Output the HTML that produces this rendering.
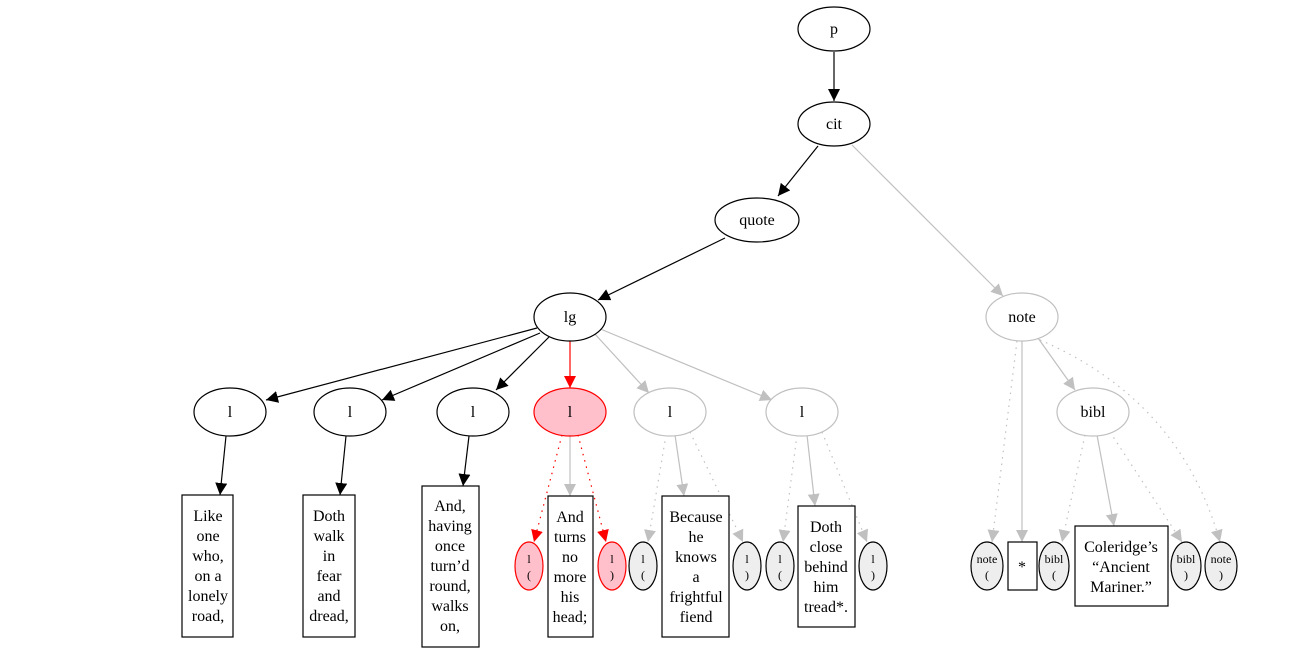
<!DOCTYPE html>
<html><head><meta charset="utf-8"><style>
html,body{margin:0;padding:0;background:#fff}
svg{display:block}
text{font-family:"Liberation Serif",serif;font-size:16px;text-anchor:middle}
.s{font-size:12px}
</style></head><body>
<svg width="1309" height="653" viewBox="0 0 1309 653" xmlns="http://www.w3.org/2000/svg">
<defs>
<marker id="ab" markerUnits="userSpaceOnUse" markerWidth="12" markerHeight="12" refX="10" refY="5" orient="auto" viewBox="0 0 10 10"><path d="M0,0 L10,5 L0,10z" fill="#000"/></marker>
<marker id="ag" markerUnits="userSpaceOnUse" markerWidth="12" markerHeight="12" refX="10" refY="5" orient="auto" viewBox="0 0 10 10"><path d="M0,0 L10,5 L0,10z" fill="#c0c0c0"/></marker>
<marker id="ar" markerUnits="userSpaceOnUse" markerWidth="12" markerHeight="12" refX="10" refY="5" orient="auto" viewBox="0 0 10 10"><path d="M0,0 L10,5 L0,10z" fill="#f00"/></marker>
</defs>
<g fill="none" stroke-width="1.2">
<!-- black edges -->
<g stroke="#000" marker-end="url(#ab)">
<line x1="834" y1="52" x2="834" y2="101"/>
<line x1="818" y1="146" x2="778" y2="196"/>
<line x1="725" y1="238" x2="598" y2="300"/>
<line x1="537" y1="328" x2="266" y2="400"/>
<line x1="540" y1="333" x2="382" y2="400"/>
<line x1="549" y1="337" x2="496" y2="390"/>
<line x1="226" y1="436" x2="220" y2="495"/>
<line x1="346" y1="436" x2="340" y2="495"/>
<line x1="469" y1="436" x2="463" y2="486"/>
</g>
<line x1="570" y1="341" x2="570" y2="388" stroke="#f00" marker-end="url(#ar)"/>
<g stroke="#c0c0c0" marker-end="url(#ag)">
<line x1="852" y1="145" x2="1003" y2="296"/>
<line x1="594" y1="333" x2="649" y2="393"/>
<line x1="598" y1="328" x2="772" y2="400"/>
<line x1="570" y1="435" x2="570" y2="496"/>
<line x1="675" y1="435" x2="684" y2="496"/>
<line x1="807" y1="435" x2="815" y2="506"/>
<line x1="1022" y1="341" x2="1022" y2="542"/>
<line x1="1038" y1="338" x2="1075" y2="390"/>
<line x1="1097" y1="435" x2="1114" y2="526"/>
</g>
<g stroke="#c0c0c0" stroke-dasharray="1.5,5" marker-end="url(#ag)">
<line x1="666" y1="435" x2="648" y2="542"/>
<line x1="690" y1="432" x2="743" y2="542"/>
<line x1="797" y1="435" x2="783" y2="542"/>
<line x1="822" y1="432" x2="867" y2="542"/>
<line x1="1017" y1="341" x2="992" y2="542"/>
<path d="M1040,340 Q1180,400 1220,542"/>
<line x1="1085" y1="435" x2="1062" y2="542"/>
<line x1="1110" y1="432" x2="1182" y2="542"/>
</g>
<g stroke="#f00" stroke-dasharray="1.5,5" marker-end="url(#ar)">
<line x1="562" y1="435" x2="534" y2="542"/>
<line x1="578" y1="435" x2="606" y2="542"/>
</g>
</g>
<!-- nodes -->
<g stroke-width="1.2">
<ellipse cx="834" cy="29" rx="36" ry="22" fill="#fff" stroke="#000"/>
<ellipse cx="834" cy="124" rx="36" ry="22" fill="#fff" stroke="#000"/>
<ellipse cx="757" cy="220" rx="42" ry="22" fill="#fff" stroke="#000"/>
<ellipse cx="570" cy="317" rx="36" ry="24" fill="#fff" stroke="#000"/>
<ellipse cx="1022" cy="317" rx="36" ry="24" fill="#fff" stroke="#c0c0c0"/>
<ellipse cx="230" cy="412" rx="36" ry="24" fill="#fff" stroke="#000"/>
<ellipse cx="350" cy="412" rx="36" ry="24" fill="#fff" stroke="#000"/>
<ellipse cx="473" cy="412" rx="36" ry="24" fill="#fff" stroke="#000"/>
<ellipse cx="570" cy="412" rx="36" ry="24" fill="#ffc0cb" stroke="#f00"/>
<ellipse cx="670" cy="412" rx="36" ry="24" fill="#fff" stroke="#c0c0c0"/>
<ellipse cx="802" cy="412" rx="36" ry="24" fill="#fff" stroke="#c0c0c0"/>
<ellipse cx="1093" cy="412" rx="36" ry="24" fill="#fff" stroke="#c0c0c0"/>
<rect x="182" y="495" width="51" height="142" fill="#fff" stroke="#000"/>
<rect x="303" y="495" width="52" height="142" fill="#fff" stroke="#000"/>
<rect x="422" y="486" width="57" height="161" fill="#fff" stroke="#000"/>
<rect x="548" y="496" width="45" height="141" fill="#fff" stroke="#000"/>
<rect x="662" y="496" width="67" height="141" fill="#fff" stroke="#000"/>
<rect x="798" y="506" width="57" height="121" fill="#fff" stroke="#000"/>
<rect x="1008" y="542" width="29" height="48" fill="#fff" stroke="#000"/>
<rect x="1075" y="526" width="93" height="80" fill="#fff" stroke="#000"/>
<ellipse cx="529" cy="566" rx="14" ry="24" fill="#ffc0cb" stroke="#f00"/>
<ellipse cx="612" cy="566" rx="14" ry="24" fill="#ffc0cb" stroke="#f00"/>
<ellipse cx="643" cy="566" rx="14" ry="24" fill="#eee" stroke="#000"/>
<ellipse cx="747" cy="566" rx="14" ry="24" fill="#eee" stroke="#000"/>
<ellipse cx="780" cy="566" rx="14" ry="24" fill="#eee" stroke="#000"/>
<ellipse cx="873" cy="566" rx="14" ry="24" fill="#eee" stroke="#000"/>
<ellipse cx="987" cy="566" rx="16" ry="24" fill="#eee" stroke="#000"/>
<ellipse cx="1054" cy="566" rx="15" ry="24" fill="#eee" stroke="#000"/>
<ellipse cx="1186" cy="566" rx="15" ry="24" fill="#eee" stroke="#000"/>
<ellipse cx="1221" cy="566" rx="16" ry="24" fill="#eee" stroke="#000"/>
</g>
<g fill="#000">
<text x="834" y="34">p</text>
<text x="834" y="129">cit</text>
<text x="757" y="225">quote</text>
<text x="570" y="322">lg</text>
<text x="1022" y="322">note</text>
<text x="230" y="417">l</text><text x="350" y="417">l</text><text x="473" y="417">l</text>
<text x="570" y="417">l</text><text x="670" y="417">l</text><text x="802" y="417">l</text>
<text x="1093" y="417">bibl</text>
<text x="208" y="521">Like</text><text x="208" y="541">one</text><text x="208" y="561">who,</text><text x="208" y="581">on a</text><text x="208" y="601">lonely</text><text x="208" y="621">road,</text>
<text x="329" y="521">Doth</text><text x="329" y="541">walk</text><text x="329" y="561">in</text><text x="329" y="581">fear</text><text x="329" y="601">and</text><text x="329" y="621">dread,</text>
<text x="450" y="511">And,</text><text x="450" y="531">having</text><text x="450" y="551">once</text><text x="450" y="571">turn’d</text><text x="450" y="591">round,</text><text x="450" y="611">walks</text><text x="450" y="631">on,</text>
<text x="570" y="522">And</text><text x="570" y="542">turns</text><text x="570" y="562">no</text><text x="570" y="582">more</text><text x="570" y="602">his</text><text x="570" y="622">head;</text>
<text x="696" y="522">Because</text><text x="696" y="542">he</text><text x="696" y="562">knows</text><text x="696" y="582">a</text><text x="696" y="602">frightful</text><text x="696" y="622">fiend</text>
<text x="826" y="532">Doth</text><text x="826" y="552">close</text><text x="826" y="572">behind</text><text x="826" y="592">him</text><text x="826" y="612">tread*.</text>
<text x="1022" y="572">*</text>
<text x="1121" y="552">Coleridge’s</text><text x="1121" y="572">“Ancient</text><text x="1121" y="592">Mariner.”</text>
<g class="s">
<text class="s" x="529" y="563">l</text><text class="s" x="529" y="579">(</text>
<text class="s" x="612" y="563">l</text><text class="s" x="612" y="579">)</text>
<text class="s" x="643" y="563">l</text><text class="s" x="643" y="579">(</text>
<text class="s" x="747" y="563">l</text><text class="s" x="747" y="579">)</text>
<text class="s" x="780" y="563">l</text><text class="s" x="780" y="579">(</text>
<text class="s" x="873" y="563">l</text><text class="s" x="873" y="579">)</text>
<text class="s" x="987" y="563">note</text><text class="s" x="987" y="579">(</text>
<text class="s" x="1054" y="563">bibl</text><text class="s" x="1054" y="579">(</text>
<text class="s" x="1186" y="563">bibl</text><text class="s" x="1186" y="579">)</text>
<text class="s" x="1221" y="563">note</text><text class="s" x="1221" y="579">)</text>
</g>
</g>
</svg>
</body></html>
